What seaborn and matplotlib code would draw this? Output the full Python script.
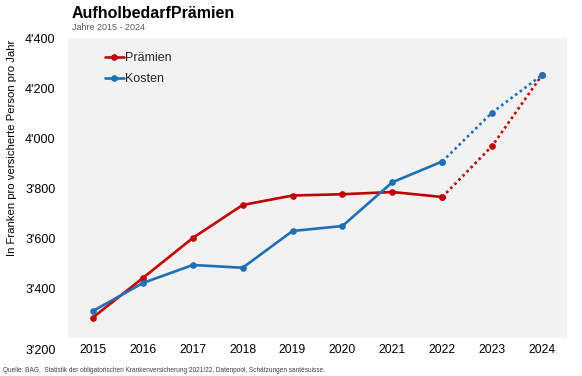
import matplotlib
matplotlib.use("Agg")
import matplotlib.pyplot as plt
import matplotlib.transforms as mtrans
import seaborn as sns
import pandas as pd

years = [2015, 2016, 2017, 2018, 2019, 2020, 2021, 2022, 2023, 2024]
praemien = [3282, 3440, 3600, 3732, 3770, 3775, 3784, 3764, 3968, 4252]
kosten = [3308, 3420, 3492, 3481, 3628, 3648, 3823, 3906, 4102, 4252]
series_names = ["Prämien", "Kosten"]
y_ticks = [3200, 3400, 3600, 3800, 4000, 4200, 4400]
y_tick_labels = ["3'200", "3'400", "3'600", "3'800", "4'000", "4'200", "4'400"]
last_actual_year = 2022

title = "AufholbedarfPrämien"
subtitle = "Jahre 2015 - 2024"
ylabel = "In Franken pro versicherte Person pro Jahr"
source = "Quelle: BAG,  Statistik der obligatorischen Krankenversicherung 2021/22, Datenpool, Schätzungen santésuisse."

sns.set_theme(style="white")
plt.rcParams["font.family"] = ["Liberation Sans", "DejaVu Sans"]

colors = {"Prämien": "#C00000", "Kosten": "#1F6FB5"}

df = pd.DataFrame({
    "Jahr": years * 2,
    "Wert": praemien + kosten,
    "Reihe": [series_names[0]] * len(years) + [series_names[1]] * len(years),
})
solid = df[df["Jahr"] <= last_actual_year]
dotted = df[df["Jahr"] >= last_actual_year]

fig = plt.figure(figsize=(5.82, 3.76), dpi=100)
ax = fig.add_axes([68 / 582, 1 - 338 / 376, 499 / 582, 300 / 376])
ax.set_facecolor("#F2F2F2")

sns.lineplot(data=solid, x="Jahr", y="Wert", hue="Reihe", palette=colors,
             marker="o", markersize=4.8, markeredgewidth=0, linewidth=1.9,
             ax=ax, legend=True)
sns.lineplot(data=dotted, x="Jahr", y="Wert", hue="Reihe", palette=colors,
             marker="o", markersize=4.8, markeredgewidth=0, linewidth=1.9,
             linestyle=(0, (1, 1.2)), ax=ax, legend=False)

ax.set_xlim(years[0] - 0.5, years[-1] + 0.5)
ax.set_ylim(y_ticks[0], y_ticks[-1])
ax.set_xticks(years)
ax.set_xticklabels([str(y) for y in years], fontsize=8.7)
ax.set_yticks(y_ticks)
ax.set_yticklabels(y_tick_labels, fontsize=9)
ax.tick_params(axis="both", length=0, colors="#000000")
ax.tick_params(axis="y", pad=9)
ax.tick_params(axis="x", pad=4)
for s in ax.spines.values():
    s.set_visible(False)
ax.set_xlabel("")
ax.set_ylabel("")

# bottom y tick label sits a bit lower in the reference
lbl = ax.get_yticklabels()[0]
lbl.set_transform(lbl.get_transform() + mtrans.ScaledTranslation(0, -11 / 100, fig.dpi_scale_trans))

handles, labels = ax.get_legend_handles_labels()
leg = ax.legend(handles, labels, loc="upper left", bbox_to_anchor=(0.065, 0.97),
                frameon=False, fontsize=9, handlelength=1.45, handletextpad=0.1,
                labelspacing=0.75, borderaxespad=0)

fig.text(72 / 582, 1 - 13 / 376, title, fontsize=11.5, fontweight="bold",
         ha="left", va="center", color="#000000")
fig.text(72 / 582, 1 - 27.5 / 376, subtitle, fontsize=6.5, ha="left", va="center",
         color="#595959")
fig.text(12 / 582, 1 - 148 / 376, ylabel, fontsize=8.2, rotation=90,
         ha="center", va="center", color="#000000")
fig.text(3 / 582, 1 - 370 / 376, source, fontsize=4.7, ha="left", va="center",
         color="#404040")

fig.savefig("out.png", dpi=100, facecolor="white")
